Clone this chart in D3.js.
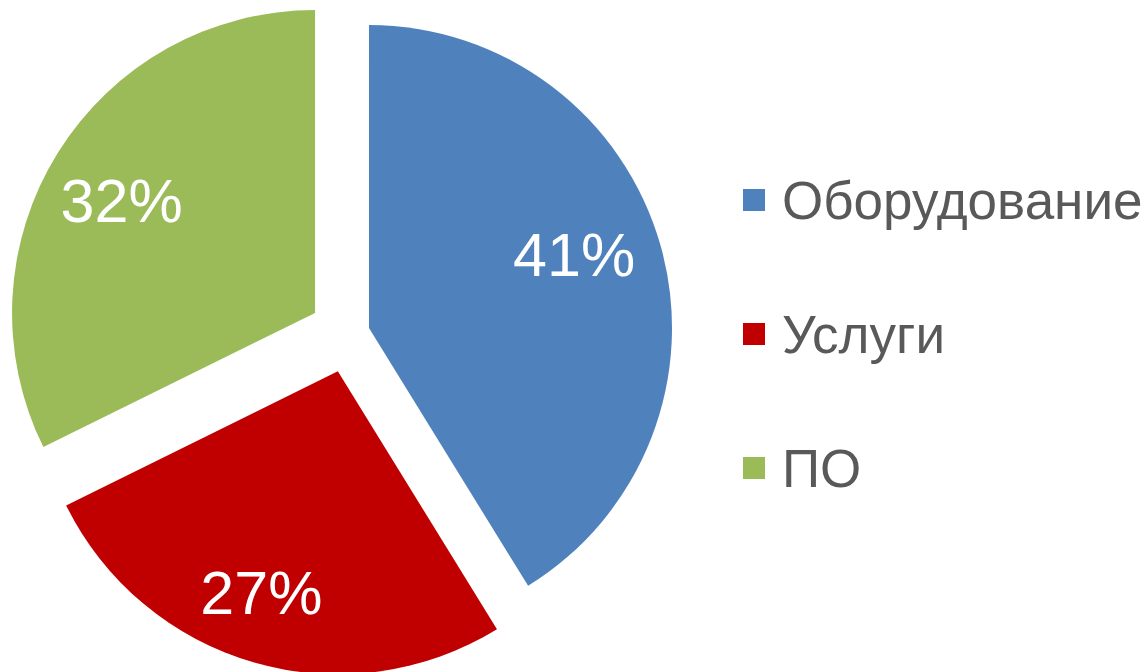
<!DOCTYPE html>
<html>
<head>
<meta charset="utf-8">
<script src="https://cdn.jsdelivr.net/npm/d3@7"></script>
<style>
  body { margin: 0; background: #fff; }
  svg { display: block; }
</style>
</head>
<body>
<div id="chart"></div>
<script>
// data
var categories = ["Оборудование", "Услуги", "ПО"];
var shares = [41.2, 26.5, 32.3];
var colors = ["#4F81BD", "#C00000", "#9BBB59"];

var width = 1148, height = 672;
var cx = 348.6, cy = 333.8, radius = 303;
var explode = [21.2, 39, 39.5];
// label placement, relative to the slice (fraction of radius, angle nudge in degrees)
var labelRadius = [0.72, 0.77, 0.74];
var labelShift = [-4.1, 3.1, -1.5];

var svg = d3.select("#chart").append("svg")
    .attr("width", width)
    .attr("height", height);

var pie = d3.pie().sort(null).value(d => d);
var arcs = pie(shares);
var arc = d3.arc().innerRadius(0).outerRadius(radius);

var g = svg.append("g").attr("transform", "translate(" + cx + "," + cy + ")");

var slices = g.selectAll("g.slice")
    .data(arcs)
    .enter()
    .append("g")
    .attr("class", "slice")
    .attr("transform", (d, i) => {
        var mid = (d.startAngle + d.endAngle) / 2;
        return "translate(" + (explode[i] * Math.sin(mid)) + "," + (-explode[i] * Math.cos(mid)) + ")";
    });

slices.append("path")
    .attr("d", arc)
    .attr("fill", (d, i) => colors[i]);

slices.append("text")
    .attr("transform", (d, i) => {
        var mid = (d.startAngle + d.endAngle) / 2 + labelShift[i] * Math.PI / 180;
        var r = radius * labelRadius[i];
        return "translate(" + (r * Math.sin(mid)) + "," + (-r * Math.cos(mid)) + ")";
    })
    .attr("dy", "0.36em")
    .attr("text-anchor", "middle")
    .style("font-family", "'Liberation Sans', Arial, sans-serif")
    .style("font-size", "61px")
    .style("fill", "#fff")
    .text(d => Math.round(d.value) + "%");

// legend
var legend = svg.append("g").attr("transform", "translate(743,189)");
var items = legend.selectAll("g")
    .data(categories)
    .enter()
    .append("g")
    .attr("transform", (d, i) => "translate(0," + (i * 134) + ")");

items.append("rect")
    .attr("width", 22)
    .attr("height", 22)
    .attr("fill", (d, i) => colors[i]);

items.append("text")
    .attr("x", 39)
    .attr("y", 30)
    .style("font-family", "'Liberation Sans', Arial, sans-serif")
    .style("font-size", "53px")
    .style("fill", "#595959")
    .text(d => d);
</script>
</body>
</html>
